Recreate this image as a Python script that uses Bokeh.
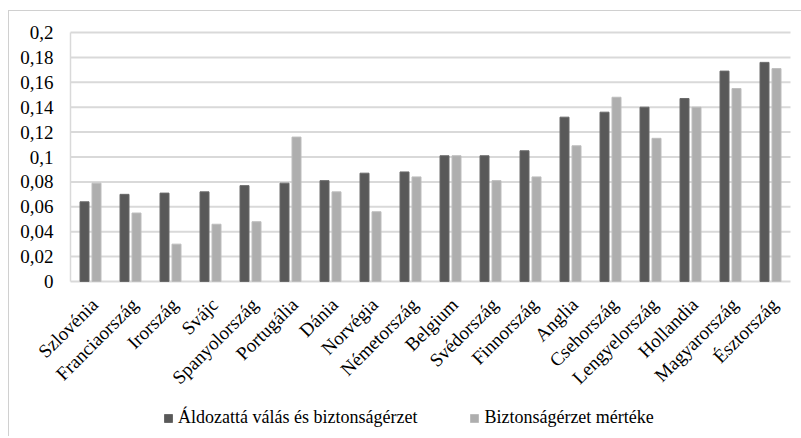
from bokeh.plotting import figure
from bokeh.models import ColumnDataSource, Legend, LegendItem, Range1d
from bokeh.core.properties import value
from bokeh.transform import dodge
from bokeh.embed import file_html
from bokeh.resources import INLINE
import math

countries = ["Szlovénia", "Franciaország", "Irország", "Svájc", "Spanyolország", "Portugália",
             "Dánia", "Norvégia", "Németország", "Belgium", "Svédország", "Finnország",
             "Anglia", "Csehország", "Lengyelország", "Hollandia", "Magyarország", "Észtország"]
aldozatta = [0.064, 0.070, 0.071, 0.072, 0.077, 0.079, 0.081, 0.087, 0.088, 0.101,
             0.101, 0.105, 0.132, 0.136, 0.140, 0.147, 0.169, 0.176]
biztonsag = [0.079, 0.055, 0.030, 0.046, 0.048, 0.116, 0.072, 0.056, 0.084, 0.101,
             0.081, 0.084, 0.109, 0.148, 0.115, 0.140, 0.155, 0.171]
series_names = ["Áldozattá válás és biztonságérzet", "Biztonságérzet mértéke"]
y_ticks = [0, 0.02, 0.04, 0.06, 0.08, 0.1, 0.12, 0.14, 0.16, 0.18, 0.2]
y_tick_labels = ["0", "0,02", "0,04", "0,06", "0,08", "0,1", "0,12", "0,14", "0,16", "0,18", "0,2"]

FONT = "Liberation Serif"
DARK = "#595959"
LIGHT = "#aeaeae"
GRID = "#d9d9d9"

n = len(countries)
idx = list(range(n))
src = ColumnDataSource(dict(i=idx, c=countries, a=aldozatta, b=biztonsag, z=[0] * n))

# plot-area geometry (pixels): 40 px per category, 1245 px per unit value
PX_CAT = 40.0
PX_VAL = 1245.0
FRAME_W, FRAME_H = 792, 425
LEFT_PAD = 61      # space left of the category area inside the frame
ZERO_FROM_TOP = 270
x_lo = -0.5 - LEFT_PAD / PX_CAT
y_hi = ZERO_FROM_TOP / PX_VAL

p = figure(frame_width=FRAME_W, frame_height=FRAME_H,
           x_range=Range1d(x_lo, x_lo + FRAME_W / PX_CAT),
           y_range=Range1d(y_hi - FRAME_H / PX_VAL, y_hi),
           output_backend="svg", toolbar_location=None,
           min_border=0,
           styles={"border-top": "1px solid #d0d0d0", "border-left": "1px solid #d0d0d0",
                   "margin-top": "10px", "margin-left": "8px"})
p.outline_line_color = None
p.xaxis.visible = False
p.yaxis.visible = False
p.xgrid.grid_line_color = None
p.ygrid.grid_line_color = None

# gridlines and axis lines of the value axis
grid_src = ColumnDataSource(dict(y=y_ticks, x0=[-0.5] * len(y_ticks), x1=[n - 0.5] * len(y_ticks)))
p.segment(x0="x0", x1="x1", y0="y", y1="y", source=grid_src, line_color=GRID, line_width=2)
p.segment(x0=[-0.5], x1=[-0.5], y0=[y_ticks[0]], y1=[y_ticks[-1]], line_color=GRID, line_width=1.5)

r1 = p.vbar(x=dodge("i", -0.15), top="a", width=0.225, source=src,
            fill_color=DARK, line_color="#6a6a6a", line_width=1)
r2 = p.vbar(x=dodge("i", 0.15), top="b", width=0.225, source=src,
            fill_color=LIGHT, line_color="#bdbdbd", line_width=1)

# category labels
p.text(x="i", y="z", text="c", source=src, angle=math.pi / 4,
       text_align="right", text_baseline="middle", x_offset=4, y_offset=20,
       text_font=value(FONT), text_font_size=value("19px"), text_color="#000000")

# value tick labels
ytick_src = ColumnDataSource(dict(y=y_ticks, t=y_tick_labels, x=[-0.5] * len(y_ticks)))
p.text(x="x", y="y", text="t", source=ytick_src, text_align="right", text_baseline="middle",
       x_offset=-17, text_font=value(FONT), text_font_size=value("19px"), text_color="#000000")

legend = Legend(items=[LegendItem(label=series_names[0], renderers=[r1]),
                       LegendItem(label=series_names[1], renderers=[r2])],
                orientation="horizontal", location=(154, 8),
                label_text_font=FONT, label_text_font_size="18px",
                label_text_color="#000000",
                glyph_width=10, glyph_height=10, spacing=52,
                label_standoff=5, border_line_color=None, background_fill_alpha=0,
                padding=0, margin=0)
p.add_layout(legend, "center")

open("out.html", "w").write(file_html(p, INLINE))
